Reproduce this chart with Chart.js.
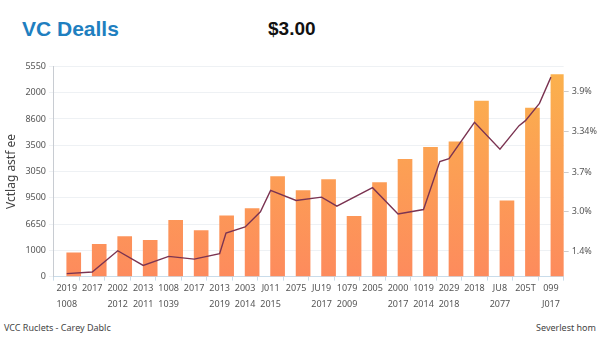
<!DOCTYPE html>
<html lang="en">
<head>
<meta charset="UTF-8">
<title>VC Dealls</title>
<script src="https://cdn.jsdelivr.net/npm/chart.js@4"></script>
<style>
  html, body { margin: 0; padding: 0; background: #fff; }
  body { width: 600px; height: 338px; position: relative; overflow: hidden; font-family: "Liberation Sans", Arial, sans-serif; }
  #wrap { position: absolute; left: 0; top: 58px; width: 600px; height: 255px; }
  .title { position: absolute; left: 22px; top: 17px; font-size: 21px; font-weight: bold; color: #1f7fc0; }
  .amount { position: absolute; left: 268px; top: 18px; font-size: 19px; font-weight: bold; color: #111; }
  .foot { position: absolute; top: 321px; font-size: 9px; color: #444; font-family: "Noto Sans", sans-serif; }
</style>
</head>
<body>
<div class="title">VC Dealls</div>
<div class="amount">$3.00</div>
<div id="wrap"><canvas id="grafica"></canvas></div>
<div class="foot" style="left:4px">VCC Ruclets - Carey Dablc</div>
<div class="foot" style="right:4px">Severlest hom</div>
<script>
// categorías (dos líneas)
const etiquetasArriba = ['2019','2017','2002','2013','1008','2017','2013','2003','J011','2075',
  'JU19','1079','2005','2000','1019','2029','2018','JU8','205T','099'];
const etiquetasAbajo = ['1008','','2012','2011','1039','','2019','2014','2015','',
  '2017','2009','','2017','2014','2018','','2077','','J017'];

// barras (escala izquierda, 0..8000)
const barras = [900,1230,1525,1385,2140,1755,2310,2590,3810,3270,
  3690,2295,3577,4460,4923,5128,6680,2885,6410,7690];

// línea (escala derecha 0..100), posición x en índice de categoría
const lineaX = [0,1,2,3,4,5,6,6.25,7,7.6,8,9,10,10.6,12,13,14,14.64,15,16,17,17.75,18,18.55,19];
const lineaY = [1.4,2.2,12.3,5.3,9.6,8.3,10.9,20.7,23.6,30.8,41.0,36.2,37.8,33.5,42.3,29.8,31.9,54.7,56.1,73.4,60.6,71.8,74.2,82.4,94.9];

// ticks
const ticksIzq = ['0','1000','6650','9500','3050','3500','8600','2000','5550'];
const ticksDerValores = [12,31,49.5,69,88];
const ticksDer = ['1.4%','3.0%','3.7%','3.34%','3.9%'];

const etiquetas = etiquetasArriba.map((e, i) => [e, etiquetasAbajo[i]]);
const puntosLinea = lineaX.map((x, i) => ({ x: x, y: lineaY[i] }));

function degradado(context) {
  const chart = context.chart;
  const area = chart.chartArea;
  if (!area) return '#fba050';
  const g = chart.ctx.createLinearGradient(0, area.top, 0, area.bottom);
  g.addColorStop(0, '#fbb24c');
  g.addColorStop(1, '#fd8b5d');
  return g;
}

const ctx = document.getElementById('grafica').getContext('2d');
new Chart(ctx, {
  type: 'bar',
  data: {
    labels: etiquetas,
    datasets: [{
      type: 'line',
      data: puntosLinea,
      xAxisID: 'xl',
      yAxisID: 'y2',
      borderColor: '#7b3452',
      borderWidth: 1.4,
      pointRadius: 0,
      tension: 0,
      order: 0
    }, {
      data: barras,
      backgroundColor: degradado,
      barThickness: 14,
      yAxisID: 'y',
      order: 1
    }]
  },
  options: {
    responsive: true,
    maintainAspectRatio: false,
    animation: false,
    layout: { padding: { left: 0, right: 0, top: 3, bottom: 0 } },
    plugins: { legend: { display: false }, tooltip: { enabled: false } },
    scales: {
      x: {
        grid: { display: true, drawOnChartArea: false, color: '#c9dcea', tickLength: 4 },
        border: { color: '#c9dcea' },
        ticks: { color: '#555', font: { size: 9, family: 'Noto Sans', lineHeight: 1.8 }, maxRotation: 0, autoSkip: false, padding: 0 }
      },
      xl: {
        type: 'linear', display: false, offset: false, min: -0.5, max: 19.5
      },
      y: {
        position: 'left',
        min: 0, max: 8000,
        ticks: { stepSize: 1000, color: '#555', font: { size: 9, family: 'Noto Sans' },
          callback: (v, i) => ticksIzq[i] },
        grid: { color: '#eef1f4', tickLength: 5 },
        border: { color: '#c8ccd2' },
        title: { display: true, text: 'Vctlag astf ee', color: '#444', font: { size: 12, family: 'Noto Sans' }, padding: 4 }
      },
      y2: {
        position: 'right',
        min: 0, max: 100,
        afterBuildTicks: axis => { axis.ticks = ticksDerValores.map(v => ({ value: v })); },
        ticks: { color: '#555', font: { size: 9, family: 'Noto Sans' },
          callback: (v, i) => ticksDer[i] },
        grid: { drawOnChartArea: false, color: '#ccc', tickLength: 5 },
        border: { display: false }
      }
    }
  }
});
</script>
</body>
</html>
